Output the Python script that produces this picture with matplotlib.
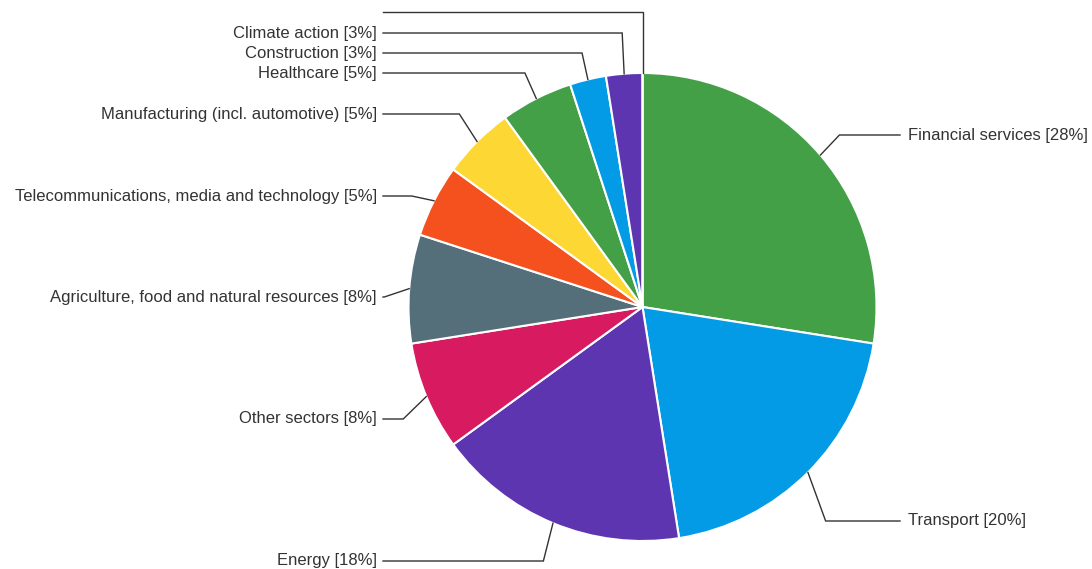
import numpy as np
import matplotlib.pyplot as plt

# sector shares (respondent counts), clockwise from 12 o'clock
sectors = ['Financial services', 'Transport', 'Energy', 'Other sectors',
           'Agriculture, food and natural resources',
           'Telecommunications, media and technology',
           'Manufacturing (incl. automotive)', 'Healthcare', 'Construction',
           'Climate action', '']
counts = [11, 8, 7, 3, 3, 2, 2, 2, 1, 1, 0]
colors = ['#43a047', '#039be5', '#5e35b1', '#d81b60', '#546e7a', '#f4511e',
          '#fdd835', '#43a047', '#039be5', '#5e35b1', '#5e35b1']

# label rows (pixel y from top), chosen by hand like the original layout
label_rows = [135, 521, 561, 419, 297, 196, 114, 73, 53, 33, 12]

W, H = 1092, 569
cx, cy, R = 642.5, H - 307, 234

fig = plt.figure(figsize=(W / 100, H / 100), dpi=100)
ax = fig.add_axes([0, 0, 1, 1])

wedges, _ = ax.pie(counts, colors=colors, startangle=90, counterclock=False,
                   center=(cx, cy), radius=R,
                   wedgeprops=dict(edgecolor='white', linewidth=1.5))
ax.set_xlim(0, W)
ax.set_ylim(0, H)
ax.set_aspect('equal')
ax.axis('off')

total = sum(counts)
mid_frac = (np.cumsum(counts) - np.array(counts) / 2) / total
for w, name, c, row, f in zip(wedges, sectors, counts, label_rows, mid_frac):
    mid = np.deg2rad((w.theta1 + w.theta2) / 2)
    ex, ey = cx + R * np.cos(mid), cy + R * np.sin(mid)
    bx = cx + (R + 25) * np.cos(mid)
    by = H - row
    left = f >= 0.5
    endx = 383 if left else 900
    ax.plot([ex, bx, endx], [ey, by, by], color='#333333', lw=1,
            solid_joinstyle='miter')
    if name:
        pct = int(100 * c / total + 0.5)
        ax.text(377 if left else 908, by, f'{name} [{pct}%]',
                ha='right' if left else 'left', va='center',
                fontsize=12, family='Liberation Sans', color='#333333')

fig.savefig('out.png', dpi=100)
